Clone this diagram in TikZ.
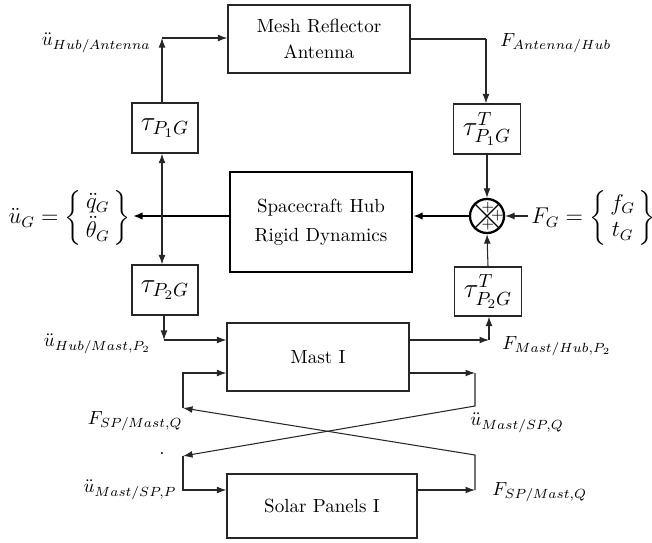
\documentclass[tikz,border=0pt]{standalone}
\usepackage{amsmath}
\usetikzlibrary{arrows.meta}
\def\pxu{0.526pt}
\begin{document}
\begin{tikzpicture}[x=0.526pt,y=-0.526pt,
  blk/.style={draw=black!85, line width=0.6pt, rectangle, align=center, inner sep=0pt},
  arr/.style={draw=black!85, line width=0.55pt, -{Latex[length=5pt,width=3.6pt]}},
  dbl/.style={draw=black!85, line width=0.55pt, {Latex[length=5pt,width=3.6pt]}-{Latex[length=5pt,width=3.6pt]}},
  tarr/.style={draw=black, line width=1.2pt, -{Latex[length=5pt,width=4pt]}},
  ln/.style={draw=black!85, line width=0.55pt},
  lab/.style={inner sep=0pt},
  pls/.style={inner sep=0pt, font=\footnotesize},
]
\useasboundingbox (0,0) rectangle (652,543);

% blocks
\node[blk, minimum width=182*\pxu, minimum height=68*\pxu] (ant) at (319,39) {Mesh Reflector\\[1.5pt]Antenna};
\node[blk, minimum width=66*\pxu, minimum height=50*\pxu] (tp1) at (165,128) {\Large$\tau_{P_1G}$};
\node[blk, minimum width=67*\pxu, minimum height=50*\pxu] (tp1t) at (487,129) {\Large$\tau^T_{P_1G}$};
\node[blk, line width=1.2pt, draw=black, minimum width=182*\pxu, minimum height=100*\pxu] (hub) at (321,222) {Spacecraft Hub\\[3.5pt]Rigid Dynamics};
\node[draw=black, line width=1.2pt, circle, minimum size=34*\pxu, inner sep=0pt] (sum) at (487,216) {};
\draw[line width=0.6pt] (sum.north west) -- (sum.south east) (sum.north east) -- (sum.south west);
\node[pls] (pt) at (488,207.5) {$+$};
\node[pls] (pr) at (497.5,216) {$+$};
\node[pls] (pb) at (488,225) {$+$};
\node[blk, minimum width=66*\pxu, minimum height=50*\pxu] (tp2) at (165,290) {\Large$\tau_{P_2G}$};
\node[blk, minimum width=67*\pxu, minimum height=49*\pxu] (tp2t) at (488,291.5) {\Large$\tau^T_{P_2G}$};
\node[blk, minimum width=182*\pxu, minimum height=68*\pxu] (mast) at (318,357) {Mast I};
\node[blk, minimum width=190*\pxu, minimum height=64*\pxu] (sp) at (322,506) {Solar Panels I};

% coordinates
\coordinate (c1) at (162,38);
\coordinate (c2) at (486,39);
\coordinate (c3) at (133,216);
\coordinate (fgin) at (528,216);
\coordinate (c4) at (164,340);
\coordinate (c5) at (489,340);
\coordinate (c6) at (475,373);
\coordinate (c7) at (475,406);
\coordinate (c8) at (183,456);
\coordinate (c9) at (183,490);
\coordinate (c10) at (475,490);
\coordinate (c11) at (475,455);
\coordinate (c12) at (183,408);
\coordinate (c13) at (183,373);

% connectors
\draw[arr] (tp1.north -| c1) -- (c1);
\draw[arr] (c1) -- (c1 -| ant.west);
\draw[ln] (ant.east |- c2) -- (c2);
\draw[arr] (c2) -- (tp1t.north -| c2);
\draw[tarr] (sum.west) -- (hub.east |- sum.west);
\draw[tarr] (hub.west |- c3) -- (c3);
\draw[dbl] (tp1.south -| c1) -- (tp2.north -| c1);
\draw[arr] (fgin) -- (sum.east);
\draw[arr] (tp1t.south) -- (sum.north);
\draw[arr] (tp2t.north) -- (sum.south);
\draw[arr] (tp2.south -| c4) -- (c4);
\draw[arr] (c4) -- (c4 -| mast.west);
\draw[arr] (mast.east |- c5) -- (c5);
\draw[arr] (c5) -- (tp2t.south -| c5);
\draw[arr] (mast.east |- c6) -- (c6);
\draw[arr] (c6) -- (c7) -- (c8);
\draw[arr] (c8) -- (c9) -- (c9 -| sp.west);
\draw[arr] (sp.east |- c10) -- (c10);
\draw[arr] (c10) -- (c11) -- (c12);
\draw[arr] (c12) -- (c13) -- (c13 -| mast.west);

% labels
\node[lab, anchor=east] (l1) at (151,43) {$\ddot u_{Hub/Antenna}$};
\node[lab, anchor=west] (l2) at (500,43) {$F_{Antenna/Hub}$};
\node[lab, anchor=east] (l3) at (131,218) {\large$\ddot u_G=\left\{\begin{array}{@{\,}c@{\,}}\ddot q_G\\ \ddot\theta_G\end{array}\right\}$};
\node[lab, anchor=west] (l4) at (531,218) {\large$F_G=\left\{\begin{array}{@{\,}c@{\,}}f_G\\ t_G\end{array}\right\}$};
\node[lab, anchor=east] (l5) at (151,344) {$\ddot u_{Hub/Mast,P_2}$};
\node[lab, anchor=west] (l6) at (502,346) {$F_{Mast/Hub,P_2}$};
\node[lab, anchor=east] (l7) at (183,421) {$F_{SP/Mast,Q}$};
\node[lab, anchor=west] (l8) at (470,423) {$\ddot u_{Mast/SP,Q}$};
\node[lab, anchor=east] (l9) at (177,490) {$\ddot u_{Mast/SP,P}$};
\node[lab, anchor=west] (l10) at (492,492) {$F_{SP/Mast,Q}$};
\node[lab] (dot) at (162,453) {.};
\end{tikzpicture}
\end{document}
